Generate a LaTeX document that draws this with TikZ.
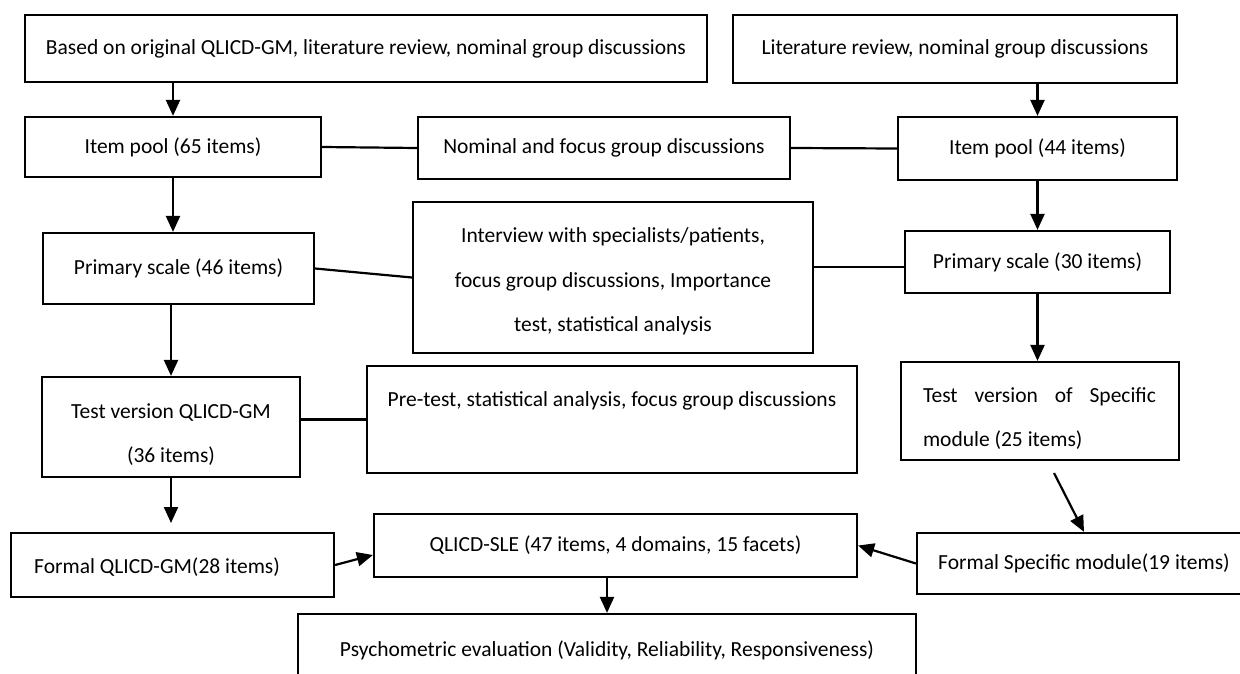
\documentclass[tikz,border=0pt]{standalone}
\usepackage{fontspec}
\setmainfont{Carlito}
\usetikzlibrary{arrows.meta,calc}
\begin{document}
\begin{tikzpicture}[x=1pt,y=-1pt,
  box/.style={draw, line width=2.2pt, inner sep=0pt, align=center, font=\fontsize{21.5}{25}\selectfont},
  txt/.style={inner sep=0pt, font=\fontsize{21.5}{44.5}\selectfont, align=center},
  link/.style={line width=2.2pt},
  arr/.style={line width=2.2pt, -{Triangle[length=16pt,width=14pt]}}]
\useasboundingbox (0,0) rectangle (1240,674);
\clip (0,0) rectangle (1240,674);
% boxes
\node[box, minimum width=682pt, minimum height=67pt] (a) at (366,48.5) {Based on original QLICD-GM, literature review, nominal group discussions};
\node[box, minimum width=444pt, minimum height=68pt] (b) at (955,49) {Literature review, nominal group discussions};
\node[box, minimum width=296pt, minimum height=60pt] (ip65) at (173,147) {Item pool (65 items)};
\node[box, minimum width=372pt, minimum height=62pt] (nfg) at (604,148) {Nominal and focus group discussions};
\node[box, minimum width=279pt, minimum height=63pt] (ip44) at (1037.5,148.5) {Item pool (44 items)};
\node[box, minimum width=271pt, minimum height=71pt] (ps46) at (178.5,268.5) {Primary scale (46 items)};
\node[box, minimum width=400pt, minimum height=151pt] (interview) at (613,277.5) {};
\node[box, minimum width=265pt, minimum height=62pt] (ps30) at (1037.5,262) {Primary scale (30 items)};
\node[box, minimum width=258pt, minimum height=100pt] (tvgm) at (171,427) {};
\node[box, minimum width=490pt, minimum height=107pt] (pretest) at (612,419.5) {};
\node[box, minimum width=278pt, minimum height=98pt] (tvs) at (1040,411) {};
\node[box, minimum width=323pt, minimum height=64pt] (fgm) at (172.5,565) {};
\node[box, minimum width=483pt, minimum height=63pt] (sle) at (615.5,545.5) {QLICD-SLE (47 items, 4 domains, 15 facets)};
\node[box, minimum width=334pt, minimum height=61pt] (fsm) at (1084,563.5) {Formal Specific module(19 items)};
\node[box, minimum width=618pt, minimum height=72pt] (psy) at (607,650) {Psychometric evaluation (Validity, Reliability, Responsiveness)};
% texts placed separately
\node[txt] (interviewT) at (613,281.5) {Interview with specialists/patients,\\focus group discussions, Importance\\test, statistical analysis};
\node[txt] (tvgmT) at (171,434.5) {Test version QLICD-GM\\(36 items)};
\node[txt] (pretestT) at (612,401) {Pre-test, statistical analysis, focus group discussions};
\node[txt, align=left] (tvsT) at (1039.5,418.5) {\makebox[233pt][s]{Test version of Specific}\\module (25 items)};
\node[txt, anchor=west] (fgmT) at (34,567) {Formal QLICD-GM(28 items)};
% connectors
\draw[arr] (ip65.north |- a.south) -- (ip65.north);
\draw[arr] (ip44.north |- b.south) -- (ip44.north);
\draw[link] (ip65.east) -- (nfg.west);
\draw[link] (nfg.east) -- (ip44.west);
\draw[arr] (ip65.south) -- (ip65.south |- ps46.north);
\draw[arr] (ps30.north |- ip44.south) -- (ps30.north);
\draw[link] (ps46.east) -- (interview.west);
\coordinate (ivout) at ($(interview.east)+(0,-10.5)$);
\draw[link] (ivout) -- (ivout -| ps30.west);
\draw[arr] (tvgm.north |- ps46.south) -- (tvgm.north);
\draw[arr] (ps30.south) -- (ps30.south |- tvs.north);
\draw[link] (tvgm.east |- pretest.west) -- (pretest.west);
\coordinate (fgmtip) at (172,523);
\draw[arr] (tvgm.south) -- (tvgm.south |- fgmtip);
\coordinate (tvsout) at (1054,473);
\draw[arr] (tvsout) -- (fsm.north);
\draw[arr] (fgm.east) -- ($(sle.west)+(0,9.5)$);
\draw[arr] (fsm.west) -- (sle.east);
\draw[arr] (psy.north |- sle.south) -- (psy.north);
\end{tikzpicture}
\end{document}
